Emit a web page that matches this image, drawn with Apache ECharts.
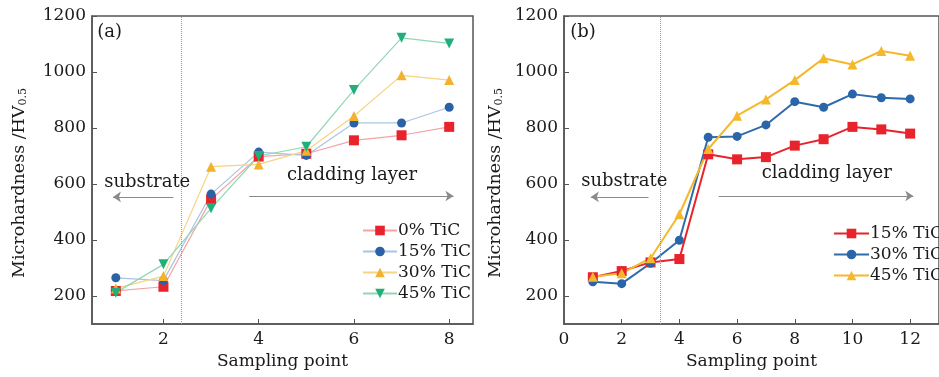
<!DOCTYPE html>
<html>
<head>
<meta charset="utf-8">
<script src="https://cdn.jsdelivr.net/npm/echarts@6/dist/echarts.min.js"></script>
<style>
  html, body { margin: 0; padding: 0; background: #fff; }
  #chart { width: 939px; height: 377px; }
</style>
</head>
<body>
<div id="chart"></div>
<script>
// panel (a): sampling points 1..8
const pointsA = [1, 2, 3, 4, 5, 6, 7, 8];
const tic0A = [218, 233, 545, 698, 708, 756, 774, 804];
const tic15A = [265, 255, 564, 714, 702, 818, 818, 874];
const tic30A = [227, 271, 662, 670, 719, 843, 988, 971];
const tic45A = [212, 313, 513, 700, 733, 936, 1122, 1102];

// panel (b): sampling points 1..12
const pointsB = [1, 2, 3, 4, 5, 6, 7, 8, 9, 10, 11, 12];
const tic15B = [267, 289, 320, 332, 706, 688, 696, 737, 760, 804, 795, 780];
const tic30B = [251, 244, 317, 399, 767, 770, 811, 894, 874, 921, 908, 904];
const tic45B = [269, 281, 335, 492, 725, 844, 902, 971, 1049, 1027, 1075, 1058];

const yTicks = [200, 400, 600, 800, 1000, 1200];
const xTicksA = [2, 4, 6, 8];
const xTicksB = [0, 2, 4, 6, 8, 10, 12];

// boundary between substrate and cladding layer
const boundaryA = 2.37;
const boundaryB = 3.33;

// annotation anchors in data units
const arrowsA = [[[2.21, 554], [0.94, 554]], [[3.8, 557], [8.09, 557]]];
const arrowsB = [[[2.93, 554], [0.93, 554]], [[5.36, 557], [12.11, 557]]];
const textsA = [['(a)', 0.87, 1140], ['substrate', 1.66, 607], ['cladding layer', 5.96, 632]];
const textsB = [['(b)', 0.66, 1140], ['substrate', 2.09, 611], ['cladding layer', 9.11, 639]];

const FONT = 'DejaVu Serif';
const INK = '#1a1a1a';

const zip = (xs, ys) => xs.map((x, i) => [x, ys[i]]);

const xAxis = (idx, min, max, ticks) => ({
  type: 'value', gridIndex: idx, min, max,
  name: 'Sampling point', nameLocation: 'middle', nameGap: 28,
  nameTextStyle: { fontFamily: FONT, fontSize: 17, color: INK },
  axisLine: { lineStyle: { color: '#555', width: 1.5 } },
  axisTick: { inside: true, length: 5, customValues: ticks, lineStyle: { color: '#555' } },
  axisLabel: { customValues: ticks, margin: 7, fontFamily: FONT, fontSize: 17, color: INK, formatter: v => String(v) },
  splitLine: { show: false },
});

const yAxis = (idx, gap) => ({
  type: 'value', gridIndex: idx, min: 100, max: 1200,
  name: '{a|Microhardness /HV}{s|0.5}', nameLocation: 'middle', nameGap: gap, nameRotate: 90,
  nameTextStyle: {
    padding: [0, 26, 0, 0],
    rich: {
      a: { fontFamily: FONT, fontSize: 17.5, color: INK },
      s: { fontFamily: FONT, fontSize: 11, color: INK, verticalAlign: 'bottom', padding: [9, 0, 0, 0] },
    },
  },
  axisLine: { lineStyle: { color: '#555', width: 1.5 } },
  axisTick: { inside: true, length: 5, customValues: yTicks, lineStyle: { color: '#555' } },
  axisLabel: { customValues: yTicks, margin: 6, fontFamily: FONT, fontSize: 17, color: INK, formatter: v => String(v) },
  splitLine: { show: false },
});

const line = (name, idx, xs, ys, lineColor, markColor, symbol, width) => ({
  type: 'line', name, xAxisIndex: idx, yAxisIndex: idx,
  data: zip(xs, ys),
  symbol, symbolSize: symbol === 'circle' ? 9 : 10,
  lineStyle: { color: lineColor, width },
  itemStyle: { color: markColor },
  emphasis: { disabled: true },
});

// arrows and captions
const annotations = (arrows, texts) => ({
  markLine: {
    silent: true, animation: false,
    symbol: ['none', 'arrow'], symbolSize: 8,
    label: { show: false },
    lineStyle: { color: '#8a8a8a', width: 1, type: 'solid' },
    data: arrows.map(a => [{ coord: a[0] }, { coord: a[1] }]),
  },
  markPoint: {
    silent: true, animation: false, symbolSize: 0,
    label: { show: true, position: 'inside', formatter: p => p.name, fontFamily: FONT, fontSize: 18, color: INK },
    data: texts.map(t => ({ name: t[0], coord: [t[1], t[2]] })),
  },
});

// dotted boundary line
const boundary = x => ({
  markLine: {
    silent: true, animation: false, symbol: 'none',
    label: { show: false },
    lineStyle: { color: '#9a9a9a', width: 1, type: 'dotted' },
    data: [{ xAxis: x }],
  },
});

const sA0 = line('a|0% TiC', 0, pointsA, tic0A, '#f5a3a3', '#e8232b', 'rect', 1.2);
const sA15 = line('a|15% TiC', 0, pointsA, tic15A, '#a9c3e2', '#2b62a6', 'circle', 1.2);
const sA30 = line('a|30% TiC', 0, pointsA, tic30A, '#f7d383', '#f2b22e', 'triangle', 1.2);
const sA45 = line('a|45% TiC', 0, pointsA, tic45A, '#93d6b4', '#1fb07a', 'triangle', 1.2);
sA45.symbolRotate = 180;
Object.assign(sA0, annotations(arrowsA, textsA));
Object.assign(sA15, boundary(boundaryA));

const sB15 = line('b|15% TiC', 1, pointsB, tic15B, '#e8232b', '#e8232b', 'rect', 2);
const sB30 = line('b|30% TiC', 1, pointsB, tic30B, '#2f6aab', '#2b65a9', 'circle', 2);
const sB45 = line('b|45% TiC', 1, pointsB, tic45B, '#f4b82c', '#f4b82c', 'triangle', 2);
Object.assign(sB15, annotations(arrowsB, textsB));
Object.assign(sB30, boundary(boundaryB));

const legend = (names, left, top, w) => ({
  data: names, orient: 'vertical', left, top,
  itemWidth: w, itemHeight: 12, itemGap: 0,
  formatter: n => n.slice(2),
  textStyle: { fontFamily: FONT, fontSize: 17, color: INK, lineHeight: 21, padding: [0, 0, 0, -4] },
  selectedMode: false,
});

const chart = echarts.init(document.getElementById('chart'));
chart.setOption({
  animation: false,
  backgroundColor: '#fff',
  grid: [
    { left: 92, top: 16, width: 381, height: 308, show: true, borderColor: '#555', borderWidth: 1.5 },
    { left: 564, top: 16, width: 383, height: 308, show: true, borderColor: '#555', borderWidth: 1.5 },
  ],
  xAxis: [xAxis(0, 0.5, 8.5, xTicksA), xAxis(1, 0, 13, xTicksB)],
  yAxis: [yAxis(0, 63), yAxis(1, 59)],
  legend: [
    legend(['a|0% TiC', 'a|15% TiC', 'a|30% TiC', 'a|45% TiC'], 357, 215, 34),
    legend(['b|15% TiC', 'b|30% TiC', 'b|45% TiC'], 828, 218, 35),
  ],
  series: [sA0, sA15, sA30, sA45, sB15, sB30, sB45],
});
</script>
</body>
</html>
